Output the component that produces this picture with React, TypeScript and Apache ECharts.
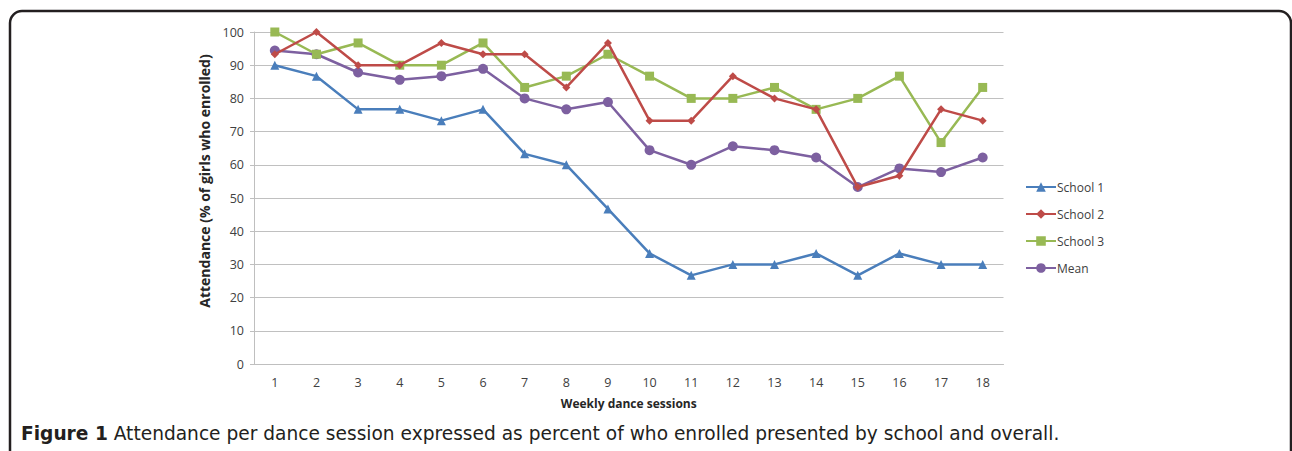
import React, { useEffect, useRef } from "react";
import * as echarts from "echarts";

const sessions = ["1","2","3","4","5","6","7","8","9","10","11","12","13","14","15","16","17","18"];
const school1 = [90, 86.7, 76.7, 76.7, 73.3, 76.7, 63.3, 60, 46.7, 33.3, 26.7, 30, 30, 33.3, 26.7, 33.3, 30, 30];
const school2 = [93.3, 100, 90, 90, 96.7, 93.3, 93.3, 83.3, 96.7, 73.3, 73.3, 86.7, 80, 76.7, 53.3, 56.7, 76.7, 73.3];
const school3 = [100, 93.3, 96.7, 90, 90, 96.7, 83.3, 86.7, 93.3, 86.7, 80, 80, 83.3, 76.7, 80, 86.7, 66.7, 83.3];
const meanVals = [94.4, 93.3, 87.8, 85.6, 86.7, 88.9, 80, 76.7, 78.9, 64.4, 60, 65.6, 64.4, 62.2, 53.3, 58.9, 57.8, 62.2];

const seriesNames = ["School 1", "School 2", "School 3", "Mean"];
const seriesColors = ["#4a7ebb", "#be4b48", "#98b954", "#7d60a0"];
const seriesSymbols = ["triangle", "diamond", "rect", "circle"];
const symbolSizes = [9, 8, 9, 10];
const yTitle = "Attendance (% of girls who enrolled)";
const xTitle = "Weekly dance sessions";
const captionBold = "Figure 1";
const captionText = " Attendance per dance session expressed as percent of who enrolled presented by school and overall.";

const FONT = "Open Sans";
const CAPFONT = "DejaVu Sans";

export default function App() {
  const ref = useRef<HTMLDivElement>(null);
  useEffect(() => {
    if (!ref.current) return;
    const chart = echarts.init(ref.current, null, { renderer: "svg" });
    const data = [school1, school2, school3, meanVals];
    chart.setOption({
      animation: false,
      backgroundColor: "#ffffff",
      grid: { left: 254, right: 288.5, top: 32, bottom: 87, containLabel: false },
      legend: {
        orient: "vertical",
        left: 1020,
        top: 176,
        itemWidth: 30,
        itemHeight: 12,
        itemGap: 15,
        textStyle: { fontFamily: FONT, fontSize: 12, color: "#404040", padding: [0, 0, 0, -4] },
        data: seriesNames,
      },
      xAxis: {
        type: "category",
        data: sessions,
        boundaryGap: true,
        name: xTitle,
        nameLocation: "middle",
        nameGap: 33,
        nameTextStyle: { fontFamily: FONT, fontSize: 12, fontWeight: "bold", color: "#262626" },
        axisLine: { lineStyle: { color: "#bfbfbf", width: 1 } },
        axisTick: { show: false },
        axisLabel: { fontFamily: FONT, fontSize: 12.5, color: "#404040", margin: 12 },
      },
      yAxis: {
        type: "value",
        min: 0,
        max: 100,
        interval: 10,
        axisLine: { show: true, lineStyle: { color: "#bfbfbf", width: 1 } },
        axisTick: { show: true, length: 4, lineStyle: { color: "#bfbfbf" } },
        axisLabel: { fontFamily: FONT, fontSize: 12.5, color: "#404040", margin: 10 },
        splitLine: { lineStyle: { color: "#c0c0c0", width: 1 } },
      },
      series: seriesNames.map((n, i) => ({
        name: n,
        type: "line",
        data: data[i],
        symbol: seriesSymbols[i],
        symbolSize: symbolSizes[i],
        showAllSymbol: true,
        lineStyle: { color: seriesColors[i], width: 2.5 },
        itemStyle: { color: seriesColors[i] },
        z: i === 0 ? 2 : 3 + (3 - i),
      })),
      graphic: [
        {
          type: "rect",
          shape: { x: 10, y: 11, width: 1281, height: 520, r: 12 },
          style: { fill: "none", stroke: "#231f20", lineWidth: 2.5 },
          silent: true,
        },
        {
          type: "text",
          x: 204,
          y: 181,
          rotation: Math.PI / 2,
          style: {
            text: yTitle,
            align: "center",
            verticalAlign: "middle",
            fontFamily: FONT,
            fontSize: 14,
            fontWeight: "bold",
            fill: "#262626",
          },
        },
        {
          type: "text",
          x: 21,
          y: 433,
          style: {
            text: "{b|" + captionBold + "}{r|" + captionText + "}",
            verticalAlign: "middle",
            rich: {
              b: { fontFamily: CAPFONT, fontSize: 18.6, fontWeight: "bold", fill: "#231f20" },
              r: { fontFamily: CAPFONT, fontSize: 18.6, fill: "#231f20" },
            },
          },
        },
      ],
    });
    return () => chart.dispose();
  }, []);
  return <div ref={ref} style={{ position: "absolute", left: 0, top: 0, width: 1292, height: 451 }} />;
}
